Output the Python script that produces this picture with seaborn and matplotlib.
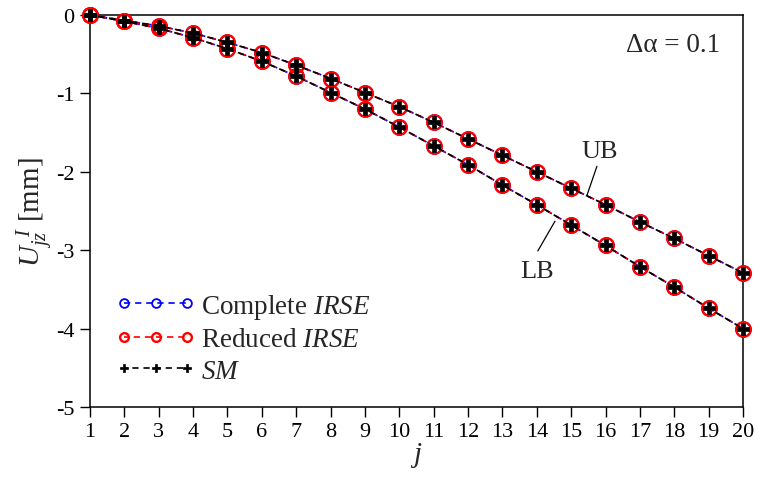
import matplotlib
matplotlib.use("Agg")
import matplotlib.pyplot as plt
import seaborn as sns
import numpy as np

j = list(range(1, 21))
ub = [0.0, -0.07, -0.14, -0.23, -0.35, -0.48, -0.64, -0.81, -0.99, -1.17,
      -1.37, -1.58, -1.79, -2.00, -2.21, -2.42, -2.64, -2.85, -3.07, -3.29]
lb = [0.0, -0.08, -0.17, -0.29, -0.43, -0.59, -0.78, -0.99, -1.20, -1.43,
      -1.67, -1.91, -2.17, -2.42, -2.68, -2.94, -3.21, -3.47, -3.74, -4.00]
series_labels = ["Complete $\\mathit{IRSE}$", "Reduced $\\mathit{IRSE}$", "$\\mathit{SM}$"]
xticks = list(range(1, 21))
yticks = [0, -1, -2, -3, -4, -5]

sns.set_style("ticks")
plt.rcParams['font.family'] = ['Liberation Serif', 'DejaVu Serif']
plt.rcParams['mathtext.fontset'] = 'custom'
plt.rcParams['mathtext.rm'] = 'Liberation Serif'
plt.rcParams['mathtext.it'] = 'Liberation Serif:italic'
plt.rcParams['mathtext.bf'] = 'Liberation Serif:bold'
plt.rcParams['lines.scale_dashes'] = False

fig = plt.figure(figsize=(7.58, 4.81), dpi=100)
ax = fig.add_axes([0.1187, 0.1518, 0.8615, 0.8149])

styles = [
    dict(color="#0000ff", marker="o", mfc="none", mec="#0000ff", ms=10.5, mew=1.3),
    dict(color="#ff0000", marker="o", mfc="none", mec="#ff0000", ms=10.5, mew=1.7),
    dict(color="black", marker="P", mfc="black", mec="black", ms=8.5, mew=0.5),
]
offsets = [0.0, 1.0, 2.0]
for k, st in enumerate(styles):
    for n, yv in enumerate([ub, lb]):
        sns.lineplot(x=j, y=yv, ax=ax, linestyle=(offsets[k], (4.5, 3.5)),
                     linewidth=1.2,
                     label=series_labels[k] if n == 0 else None,
                     clip_on=False, zorder=3 + k, **st)

ax.set_xlim(1, 20)
ax.set_ylim(-5, 0)
ax.set_xticks(xticks)
ax.set_yticks(yticks)
ax.set_xticklabels([str(t) for t in xticks])
ax.set_yticklabels([str(t) for t in yticks])
ax.tick_params(axis='both', direction='out', length=7, width=1, labelsize=16,
               colors='black', pad=4)
for s in ax.spines.values():
    s.set_visible(True)
    s.set_linewidth(1.1)
    s.set_color('black')

ax.set_xlabel("$j$", fontsize=21, labelpad=-1)
ax.set_ylabel("$U_{jz}^{\\ \\,I}$ [mm]", fontsize=21, labelpad=0)

ax.text(0.965, 0.925, "\u0394\u03b1 = 0.1", transform=ax.transAxes,
        ha='right', va='center', fontsize=19.5)

ax.text(15.84, -1.73, "UB", ha='center', va='center', fontsize=19)
ax.plot([15.75, 15.46], [-1.93, -2.30], color='black', lw=0.9)
ax.text(14.0, -3.27, "LB", ha='center', va='center', fontsize=19)
ax.plot([14.03, 14.53], [-3.01, -2.63], color='black', lw=0.9)

leg = ax.legend(loc='upper left', bbox_to_anchor=(0.023, 0.322), frameon=False,
                fontsize=19.5, numpoints=3, markerscale=0.6, handlelength=2.93,
                handletextpad=0.2, labelspacing=0.24, borderaxespad=0)

fig.savefig("out.png", dpi=100)
